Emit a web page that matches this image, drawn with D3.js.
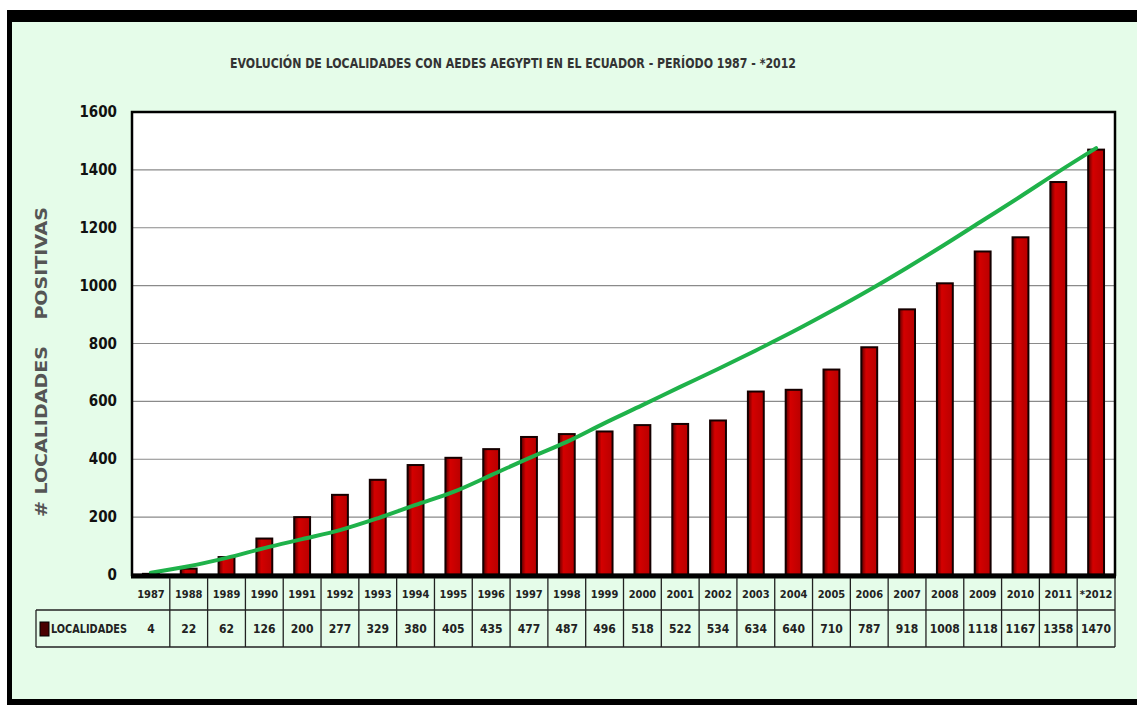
<!DOCTYPE html>
<html>
<head>
<meta charset="utf-8">
<script src="https://cdn.jsdelivr.net/npm/d3@7"></script>
<style>
  body { margin: 0; background: #ffffff; }
  text { font-family: "Liberation Sans Narrow", "DejaVu Sans Condensed", "Liberation Sans", sans-serif; }
</style>
</head>
<body>
<div id="chart"></div>
<script>
// data
var years = ['1987', '1988', '1989', '1990', '1991', '1992', '1993', '1994', '1995', '1996', '1997', '1998', '1999',
	'2000', '2001', '2002', '2003', '2004', '2005', '2006', '2007', '2008', '2009', '2010', '2011', '*2012'];
var localidades = [4, 22, 62, 126, 200, 277, 329, 380, 405, 435, 477, 487, 496, 518, 522, 534, 634, 640, 710, 787,
	918, 1008, 1118, 1167, 1358, 1470];
// green trend curve, estimated at each year
var tendencia = [8, 30, 59, 93, 124, 155, 196, 242, 287, 345, 404, 460, 525, 587, 650, 712, 776, 842, 912, 985,
	1062, 1142, 1225, 1308, 1393, 1475];
var yTicks = [0, 200, 400, 600, 800, 1000, 1200, 1400, 1600];
var title = 'EVOLUCIÓN DE LOCALIDADES CON AEDES AEGYPTI EN EL ECUADOR - PERÍODO 1987 - *2012';
var seriesName = 'LOCALIDADES';

var W = 1137, H = 705;
var plot = { left: 132, right: 1115, top: 112, bottom: 575 };

var svg = d3.select('#chart').append('svg').attr('width', W).attr('height', H);

// frame + mint background
svg.append('rect').attr('x', 7).attr('y', 10).attr('width', W - 7).attr('height', H - 10).attr('fill', '#000');
svg.append('rect').attr('x', 12).attr('y', 22).attr('width', W - 12).attr('height', H - 22 - 6).attr('fill', '#e5fce9');

var defs = svg.append('defs');
var grad = defs.append('linearGradient').attr('id', 'barGrad').attr('x1', 0).attr('x2', 1).attr('y1', 0).attr('y2', 0);
grad.append('stop').attr('offset', '0%').attr('stop-color', '#5a0000');
grad.append('stop').attr('offset', '30%').attr('stop-color', '#d40000');
grad.append('stop').attr('offset', '100%').attr('stop-color', '#b80000');

var x = d3.scaleBand().domain(years).range([plot.left, plot.right]).padding(0);
var y = d3.scaleLinear().domain([0, 1600]).range([plot.bottom, plot.top]);

// plot area
svg.append('rect')
	.attr('x', plot.left).attr('y', plot.top)
	.attr('width', plot.right - plot.left).attr('height', plot.bottom - plot.top)
	.attr('fill', '#fff');

// gridlines
svg.append('g').selectAll('line').data(yTicks.filter(d => d > 0 && d < 1600)).join('line')
	.attr('x1', plot.left).attr('x2', plot.right)
	.attr('y1', d => y(d)).attr('y2', d => y(d))
	.attr('stroke', '#8a8a8a').attr('stroke-width', 1.2);

// y tick labels
svg.append('g').selectAll('text').data(yTicks).join('text')
	.attr('x', 117).attr('y', d => y(d) + 5)
	.attr('text-anchor', 'end')
	.attr('font-size', 15).attr('font-weight', 'bold').attr('fill', '#111')
	.text(d => d);

// bars
var bw = x.bandwidth() * 0.42;
svg.append('g').selectAll('rect').data(localidades).join('rect')
	.attr('x', (d, i) => x(years[i]) + (x.bandwidth() - bw) / 2)
	.attr('y', d => y(d))
	.attr('width', bw)
	.attr('height', d => plot.bottom - y(d))
	.attr('fill', 'url(#barGrad)')
	.attr('stroke', '#150000').attr('stroke-width', 2);

// trend curve
var line = d3.line()
	.x((d, i) => x(years[i]) + x.bandwidth() / 2)
	.y(d => y(d))
	.curve(d3.curveCatmullRom);
svg.append('path').datum(tendencia)
	.attr('d', line)
	.attr('fill', 'none').attr('stroke', '#1fb24a').attr('stroke-width', 4).attr('stroke-linecap', 'round');

// plot border and thick baseline
svg.append('rect')
	.attr('x', plot.left).attr('y', plot.top)
	.attr('width', plot.right - plot.left).attr('height', plot.bottom - plot.top)
	.attr('fill', 'none').attr('stroke', '#000').attr('stroke-width', 2.5);
svg.append('line')
	.attr('x1', plot.left - 1).attr('x2', plot.right + 1)
	.attr('y1', plot.bottom + 1).attr('y2', plot.bottom + 1)
	.attr('stroke', '#000').attr('stroke-width', 5);

// data table
var rowYears = { top: 578, bottom: 610 };
var rowVals = { top: 610, bottom: 647 };
var tbl = svg.append('g').attr('stroke', '#222').attr('stroke-width', 1.3);
tbl.selectAll('line.sep').data(years.slice(1).concat(['end'])).join('line')
	.attr('class', 'sep')
	.attr('x1', d => d === 'end' ? plot.right : x(d))
	.attr('x2', d => d === 'end' ? plot.right : x(d))
	.attr('y1', rowYears.top).attr('y2', rowVals.bottom);
tbl.append('line').attr('x1', 36).attr('x2', plot.right).attr('y1', rowVals.top).attr('y2', rowVals.top);
tbl.append('line').attr('x1', 36).attr('x2', plot.right).attr('y1', rowVals.bottom).attr('y2', rowVals.bottom);
tbl.append('line').attr('x1', 36).attr('x2', 36).attr('y1', rowVals.top).attr('y2', rowVals.bottom);

svg.append('g').selectAll('text').data(years).join('text')
	.attr('x', d => x(d) + x.bandwidth() / 2).attr('y', (rowYears.top + rowYears.bottom) / 2 + 4)
	.attr('text-anchor', 'middle').attr('font-size', 11).attr('font-weight', 'bold').attr('fill', '#222')
	.text(d => d);

svg.append('g').selectAll('text').data(localidades).join('text')
	.attr('x', (d, i) => x(years[i]) + x.bandwidth() / 2).attr('y', (rowVals.top + rowVals.bottom) / 2 + 4)
	.attr('text-anchor', 'middle').attr('font-size', 12).attr('font-weight', 'bold').attr('fill', '#222')
	.text(d => d);

// legend key in table
svg.append('rect').attr('x', 40).attr('y', 622).attr('width', 9).attr('height', 14)
	.attr('fill', '#4a0000').attr('stroke', '#000');
svg.append('text').attr('x', 51).attr('y', 633)
	.attr('font-size', 12).attr('font-weight', 'bold').attr('fill', '#222')
	.attr('textLength', 76).attr('lengthAdjust', 'spacingAndGlyphs')
	.text(seriesName);

// title
svg.append('text').attr('x', 230).attr('y', 68)
	.attr('font-size', 14).attr('font-weight', 'bold').attr('fill', '#333')
	.attr('textLength', 566).attr('lengthAdjust', 'spacingAndGlyphs')
	.text(title);

// y axis title
svg.append('text')
	.attr('transform', 'translate(47,362) rotate(-90)')
	.attr('text-anchor', 'middle')
	.attr('font-size', 15).attr('font-weight', 'bold').attr('fill', '#555')
	.attr('font-family', '"Liberation Sans", sans-serif')
	.attr('textLength', 310).attr('lengthAdjust', 'spacingAndGlyphs')
	.attr('xml:space', 'preserve')
	.text('# LOCALIDADES    POSITIVAS');
</script>
</body>
</html>
